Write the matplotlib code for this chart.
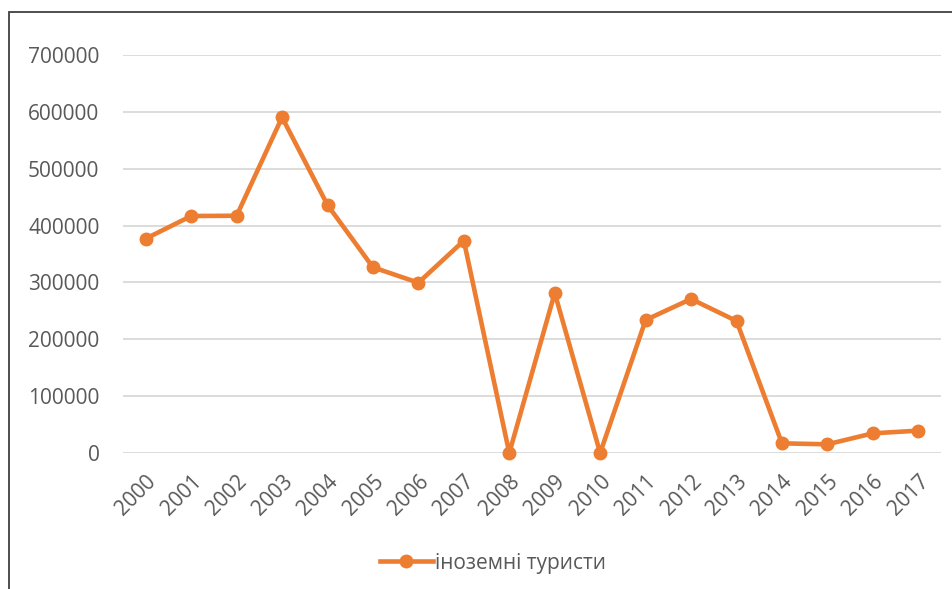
import matplotlib
matplotlib.use("Agg")
import matplotlib.pyplot as plt
from matplotlib.patches import Rectangle

years = [str(y) for y in range(2000, 2018)]
tourists = [377000, 416800, 417300, 590400, 436200, 326600, 299500, 373400, 0,
            281400, 0, 233900, 270900, 232200, 17000, 15300, 34600, 39300]
series_name = "іноземні туристи"

plt.rcParams['font.family'] = ['Open Sans', 'DejaVu Sans']
orange = "#ED7D31"
grey = "#595959"

fig = plt.figure(figsize=(9.52, 5.89), dpi=100)
ax = fig.add_axes([123 / 952, 1 - 453 / 589, (941 - 123) / 952, (453 - 55) / 589])

x = list(range(len(years)))
ax.plot(x, tourists, color=orange, lw=3.3, marker='o', ms=9,
        label=series_name, clip_on=False, zorder=3)

ax.set_xlim(-0.5, len(years) - 0.5)
ax.set_ylim(0, 700000)
ax.set_yticks(range(0, 700001, 100000))
ax.set_yticklabels([str(v) for v in range(0, 700001, 100000)])
ax.set_xticks(x)
ax.set_xticklabels(years, rotation=45, ha='right', rotation_mode='anchor')
ax.tick_params(axis='both', length=0, labelsize=15, labelcolor=grey)
ax.tick_params(axis='y', pad=17)
ax.tick_params(axis='x', pad=13)
ax.grid(axis='y', color='#d9d9d9', lw=1.3)
ax.set_axisbelow(True)
for s in ax.spines.values():
    s.set_visible(False)

# chart border (cropped on right and bottom)
fig.patches.append(Rectangle((9 / 952, -0.1), 1.2, 1.1 - 12 / 589,
                             transform=fig.transFigure, fill=False,
                             ec='#404040', lw=1.3))

fig.legend(loc='center', bbox_to_anchor=(493 / 952, 1 - 563 / 589),
           frameon=False, fontsize=15, labelcolor=grey, handlelength=2.5,
           handletextpad=0.1)

fig.savefig("out.png", dpi=100)
